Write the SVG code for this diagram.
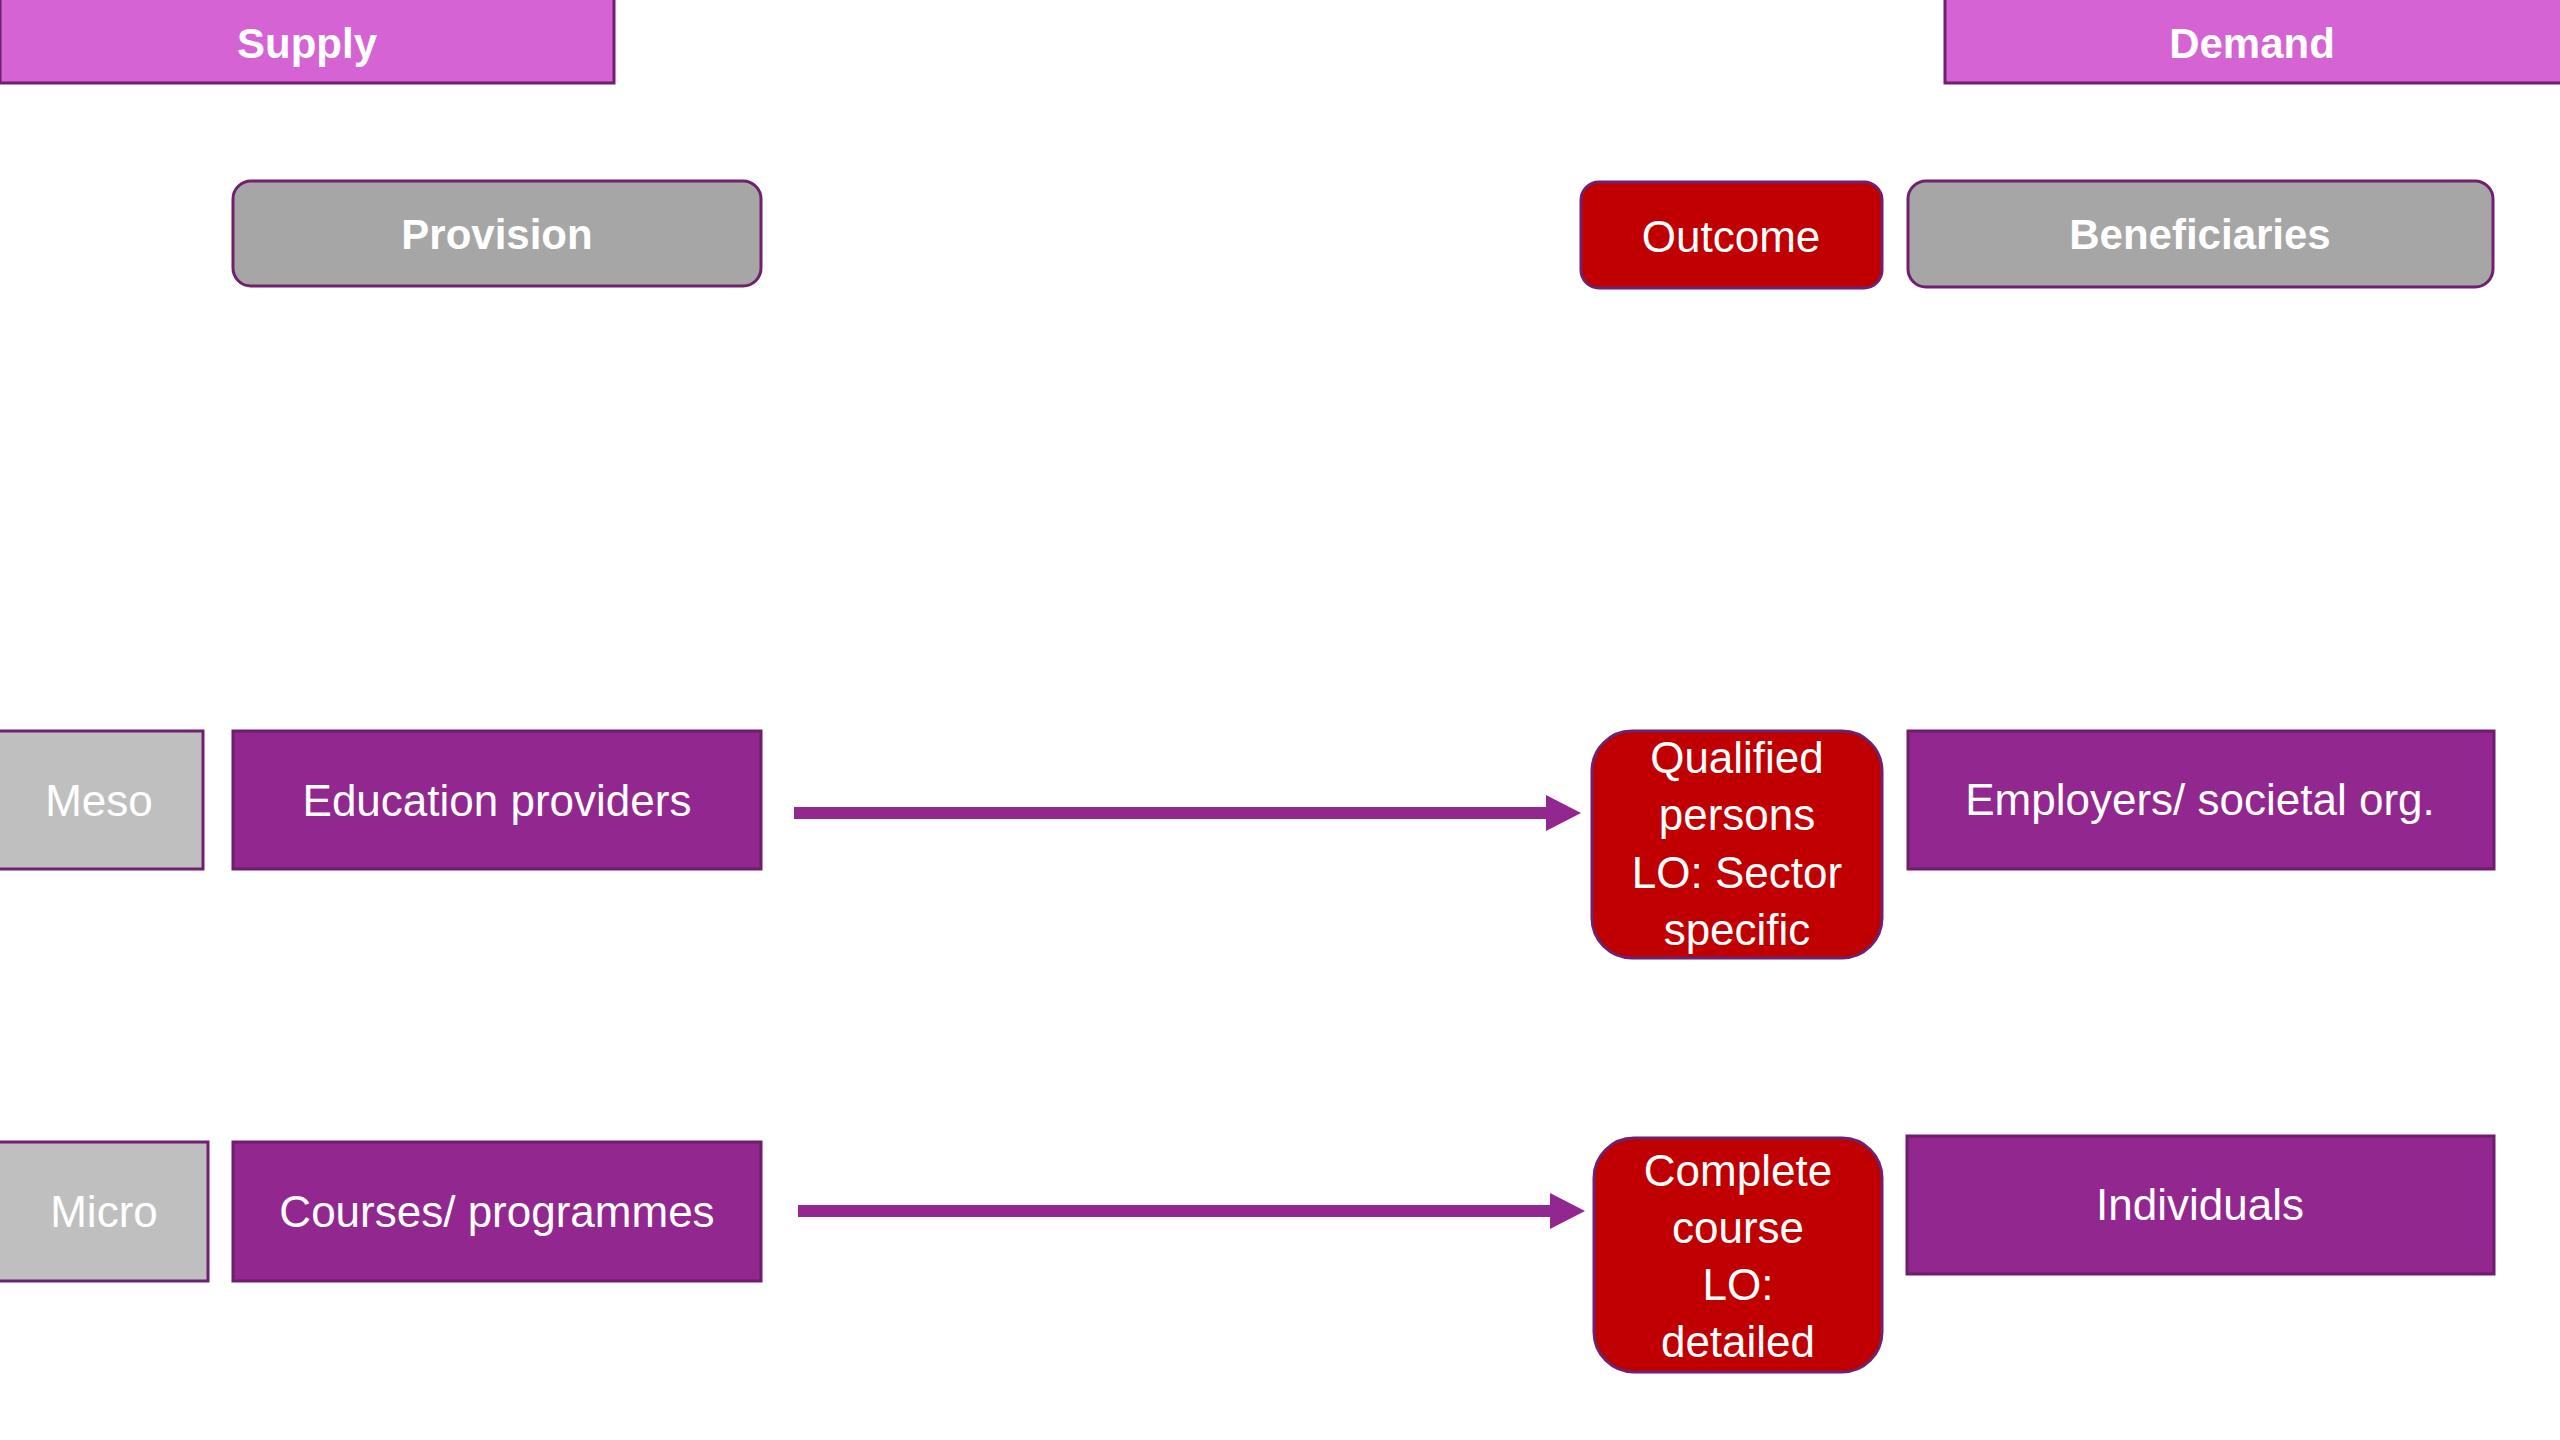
<svg xmlns="http://www.w3.org/2000/svg" width="2560" height="1440" viewBox="0 0 2560 1440">
<style>
.t{font-family:"Liberation Sans",Arial,sans-serif;font-size:44px;fill:#FFFFFF;text-anchor:middle}
.b{font-weight:bold;font-size:42px}
.hdr{fill:#D563D3;stroke:#70206E;stroke-width:3}
.gry{fill:#A6A6A6;stroke:#70206E;stroke-width:3}
.lvl{fill:#BFBFBF;stroke:#70206E;stroke-width:3}
.pur{fill:#92278F;stroke:#6D1F6B;stroke-width:3}
.red{fill:#C00000;stroke:#70206E;stroke-width:3}
.arr{fill:#92278F}
</style>
<rect width="2560" height="1440" fill="#FFFFFF"/>
<g id="supply"><rect class="hdr" x="0" y="-2" width="614" height="85"/><text class="t b" x="307" y="58">Supply</text></g>
<g id="demand"><rect class="hdr" x="1945" y="-2" width="617" height="85"/><text class="t b" x="2252" y="58">Demand</text></g>
<g id="provision"><rect class="gry" x="233" y="181" width="528" height="105" rx="18"/><text class="t b" x="497" y="249">Provision</text></g>
<g id="outcome"><rect class="red" x="1581" y="182" width="301" height="106" rx="18"/><text class="t" x="1731" y="252">Outcome</text></g>
<g id="beneficiaries"><rect class="gry" x="1908" y="181" width="585" height="106" rx="18"/><text class="t b" x="2200" y="249">Beneficiaries</text></g>
<g id="meso"><rect class="lvl" x="-2" y="731" width="205" height="138"/><text class="t" x="99" y="816">Meso</text></g>
<g id="education-providers"><rect class="pur" x="233" y="731" width="528" height="138"/><text class="t" x="497" y="816">Education providers</text></g>
<g id="qualified-persons"><rect class="red" x="1592" y="731" width="290" height="227" rx="40"/><text class="t" x="1737" y="773">Qualified</text><text class="t" x="1737" y="830">persons</text><text class="t" x="1737" y="888">LO: Sector</text><text class="t" x="1737" y="945">specific</text></g>
<g id="employers"><rect class="pur" x="1908" y="731" width="586" height="138"/><text class="t" x="2200" y="815">Employers/ societal org.</text></g>
<g id="micro"><rect class="lvl" x="-2" y="1142" width="210" height="139"/><text class="t" x="104" y="1227">Micro</text></g>
<g id="courses"><rect class="pur" x="233" y="1142" width="528" height="139"/><text class="t" x="497" y="1227">Courses/ programmes</text></g>
<g id="complete-course"><rect class="red" x="1594" y="1138" width="288" height="234" rx="40"/><text class="t" x="1738" y="1186">Complete</text><text class="t" x="1738" y="1243">course</text><text class="t" x="1738" y="1300">LO:</text><text class="t" x="1738" y="1357">detailed</text></g>
<g id="individuals"><rect class="pur" x="1907" y="1136" width="587" height="138"/><text class="t" x="2200" y="1220">Individuals</text></g>
<g id="connectors">
<polygon class="arr" points="794,807 1546,807 1546,795 1581,813 1546,831 1546,819 794,819"/>
<polygon class="arr" points="798,1205 1550,1205 1550,1193 1585,1211 1550,1229 1550,1217 798,1217"/>
</g>
</svg>
